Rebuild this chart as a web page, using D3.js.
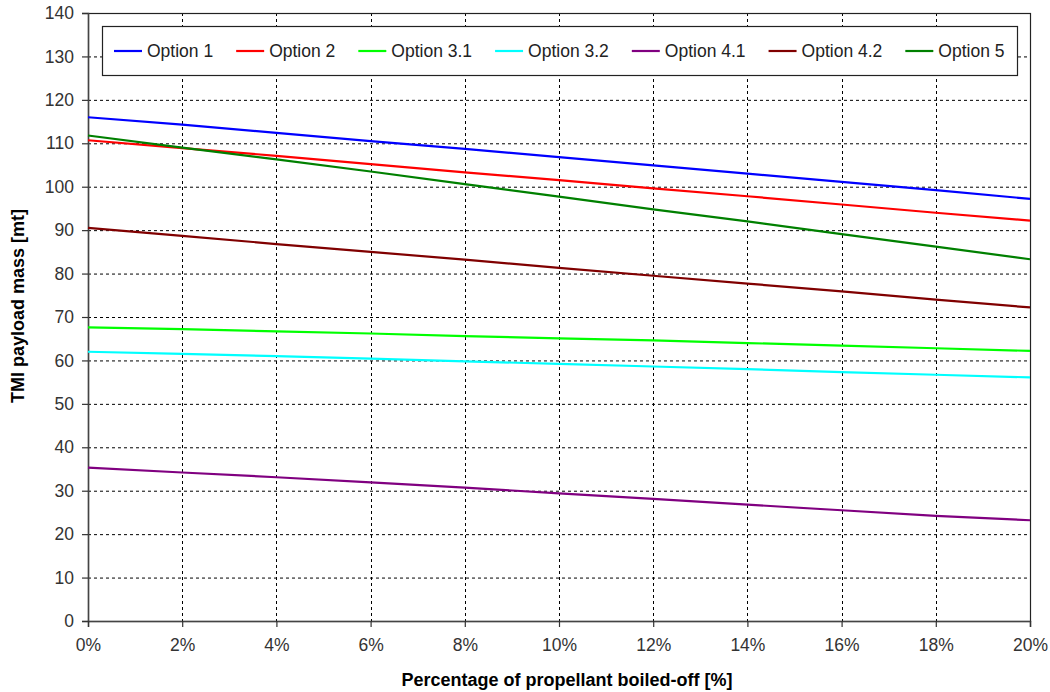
<!DOCTYPE html>
<html>
<head>
<meta charset="utf-8">
<script src="https://cdn.jsdelivr.net/npm/d3@7"></script>
<style>
  body { margin: 0; background: #fff; }
  svg { display: block; font-family: "Liberation Sans", Arial, sans-serif; }
</style>
</head>
<body>
<svg id="chart" width="1050" height="692"></svg>
<script>
// ---- Data ----
const boiloff = [0, 0.02, 0.04, 0.06, 0.08, 0.10, 0.12, 0.14, 0.16, 0.18, 0.20];
const option1  = [116.0, 114.3, 112.4, 110.5, 108.7, 106.8, 104.9, 103.0, 101.1, 99.2, 97.2];
const option2  = [110.7, 108.9, 107.1, 105.2, 103.3, 101.5, 99.6, 97.8, 95.9, 94.0, 92.2];
const option31 = [67.6, 67.2, 66.7, 66.2, 65.6, 65.1, 64.6, 64.0, 63.4, 62.8, 62.2];
const option32 = [62.0, 61.5, 61.0, 60.4, 59.8, 59.2, 58.6, 58.0, 57.3, 56.7, 56.1];
const option41 = [35.3, 34.2, 33.1, 31.9, 30.7, 29.4, 28.1, 26.8, 25.5, 24.2, 23.2];
const option42 = [90.5, 88.7, 86.8, 85.0, 83.2, 81.3, 79.5, 77.7, 75.9, 74.0, 72.2];
const option5  = [111.8, 109.0, 106.3, 103.5, 100.6, 97.7, 94.8, 92.0, 89.1, 86.2, 83.3];
const seriesNames = ["Option 1", "Option 2", "Option 3.1", "Option 3.2", "Option 4.1", "Option 4.2", "Option 5"];
const seriesValues = [option1, option2, option31, option32, option41, option42, option5];
const seriesColors = ["#0000ff", "#ff0000", "#00ff00", "#00ffff", "#800080", "#800000", "#008000"];
const yTicks = d3.range(0, 141, 10);
const xTicks = boiloff;
const xTitle = "Percentage of propellant boiled-off [%]";
const yTitle = "TMI payload mass [mt]";

// ---- Layout ----
const svg = d3.select("#chart");
const L = 88, R = 1030, T = 13, B = 621;
const x = d3.scaleLinear().domain([0, 0.20]).range([L, R]);
const y = d3.scaleLinear().domain([0, 140]).range([B, T]);

// gridlines
const grid = svg.append("g");
grid.selectAll("line.h").data(yTicks.filter(d => d > 0 && d < 140)).enter().append("line")
  .attr("x1", L).attr("x2", R).attr("y1", d => y(d) + 0.5).attr("y2", d => y(d) + 0.5)
  .attr("stroke", "#000").attr("stroke-width", 1).attr("stroke-dasharray", "3,3");
grid.selectAll("line.v").data(xTicks.filter(d => d > 0 && d < 0.2)).enter().append("line")
  .attr("x1", d => Math.round(x(d)) + 0.5).attr("x2", d => Math.round(x(d)) + 0.5)
  .attr("y1", T).attr("y2", B)
  .attr("stroke", "#000").attr("stroke-width", 1).attr("stroke-dasharray", "3,3");

// plot border
svg.append("rect").attr("x", L + 0.5).attr("y", T + 0.5).attr("width", R - L).attr("height", B - T)
  .attr("fill", "none").attr("stroke", "#222").attr("stroke-width", 1.2);

// axes
const yAxis = d3.axisLeft(y).tickValues(yTicks).tickSize(6).tickPadding(8).tickFormat(d3.format("d"));
const gy = svg.append("g").attr("transform", `translate(${L},0)`).call(yAxis);
const xAxis = d3.axisBottom(x).tickValues(xTicks).tickSize(6).tickPadding(12).tickFormat(d3.format(".0%"));
const gx = svg.append("g").attr("transform", `translate(0,${B})`).call(xAxis);
[gy, gx].forEach(g => {
  g.select(".domain").attr("stroke", "#444").attr("stroke-width", 1.5);
  g.selectAll(".tick line").attr("stroke", "#333").attr("stroke-width", 1.2);
  g.selectAll(".tick text").attr("fill", "#333").style("font-size", "17.5px").style("font-family", "Liberation Sans, Arial, sans-serif");
});

// lines
const line = d3.line().x((d, i) => x(boiloff[i])).y(d => y(d));
svg.append("g").selectAll("path").data(seriesValues).enter().append("path")
  .attr("d", d => line(d)).attr("fill", "none")
  .attr("stroke", (d, i) => seriesColors[i]).attr("stroke-width", 2.2);

// axis titles
svg.append("text").attr("x", 567).attr("y", 686).attr("text-anchor", "middle")
  .style("font-size", "18px").style("font-weight", "bold").attr("fill", "#000").text(xTitle);
svg.append("text").attr("transform", "translate(24,306) rotate(-90)").attr("text-anchor", "middle")
  .style("font-size", "18px").style("font-weight", "bold").attr("fill", "#000").text(yTitle);

// legend
const lg = svg.append("g");
lg.append("rect").attr("x", 102.5).attr("y", 26.5).attr("width", 915).attr("height", 49)
  .attr("fill", "#fff").attr("stroke", "#222").attr("stroke-width", 1.2);
let cx = 114;
seriesNames.forEach((name, i) => {
  lg.append("line").attr("x1", cx).attr("x2", cx + 28).attr("y1", 51).attr("y2", 51)
    .attr("stroke", seriesColors[i]).attr("stroke-width", 2.2);
  const t = lg.append("text").attr("x", cx + 33).attr("y", 57)
    .style("font-size", "17.5px").attr("fill", "#222").text(name);
  cx += 33 + t.node().getComputedTextLength() + 23;
});
</script>
</body>
</html>
